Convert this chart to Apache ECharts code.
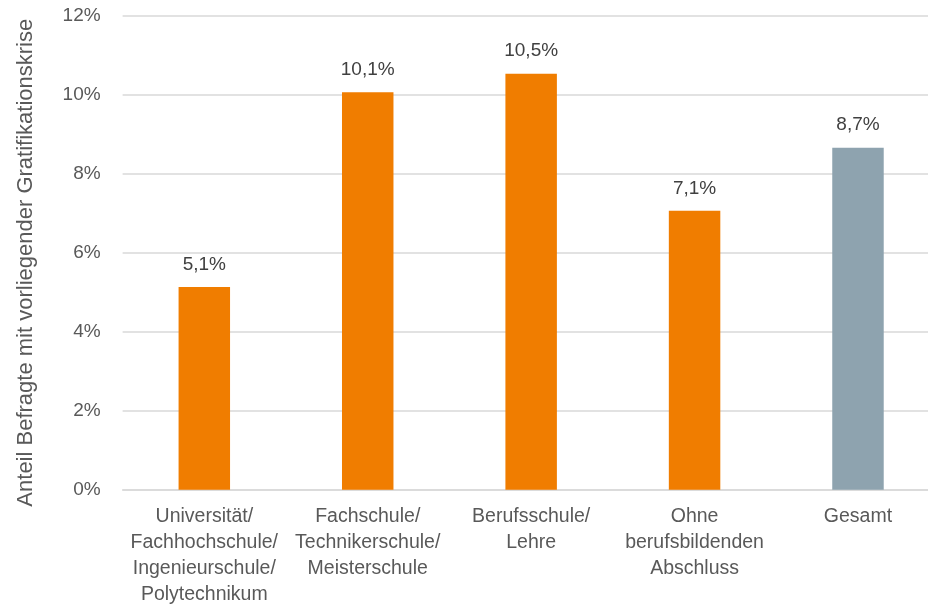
<!DOCTYPE html>
<html>
<head>
<meta charset="utf-8">
<script src="https://cdn.jsdelivr.net/npm/echarts@6/dist/echarts.min.js"></script>
<style>
html,body{margin:0;padding:0;background:#fff;}
#chart{width:928px;height:614px;}
</style>
</head>
<body>
<div id="chart"></div>
<script>
const categories = [
  "Universität/\nFachhochschule/\nIngenieurschule/\nPolytechnikum",
  "Fachschule/\nTechnikerschule/\nMeisterschule",
  "Berufsschule/\nLehre",
  "Ohne\nberufsbildenden\nAbschluss",
  "Gesamt"
];
const values = [5.13, 10.06, 10.53, 7.06, 8.66];
const barColors = ["#F07D00", "#F07D00", "#F07D00", "#F07D00", "#8EA3AF"];
const yTicks = [0, 2, 4, 6, 8, 10, 12];
const yAxisTitle = "Anteil Befragte mit vorliegender Gratifikationskrise";

const FONT = "'Liberation Sans', Arial, sans-serif";
const chart = echarts.init(document.getElementById('chart'));
chart.setOption({
  animation: false,
  grid: { left: 122.6, top: 15.7, right: -11.7, bottom: 124.3, containLabel: false, outerBoundsMode: 'none' },
  xAxis: {
    type: 'category',
    data: categories,
    axisLine: { show: true, lineStyle: { color: '#d9d9d9', width: 1.5 } },
    axisTick: { show: false },
    axisLabel: {
      interval: 0, margin: 14, color: '#595959', fontFamily: FONT, fontSize: 19.5, lineHeight: 26
    }
  },
  yAxis: {
    type: 'value',
    min: yTicks[0], max: yTicks[yTicks.length - 1], interval: 2,
    name: yAxisTitle,
    nameLocation: 'middle',
    nameGap: 86,
    nameTextStyle: { color: '#595959', fontFamily: FONT, fontSize: 22, padding: [0, 20, 0, 0] },
    axisLine: { show: false },
    axisTick: { show: false },
    splitLine: { lineStyle: { color: '#d9d9d9', width: 1.5 } },
    axisLabel: { margin: 22, color: '#595959', fontFamily: FONT, fontSize: 19, formatter: v => v + '%' }
  },
  series: [{
    type: 'bar',
    barWidth: '31.5%',
    data: values.map((v, i) => ({ value: v, itemStyle: { color: barColors[i] } })),
    label: {
      show: true, position: 'top', distance: 13,
      color: '#404040', fontFamily: FONT, fontSize: 19,
      formatter: p => (Math.round(p.value * 10) / 10).toFixed(1).replace('.', ',') + '%'
    }
  }]
});
</script>
</body>
</html>
